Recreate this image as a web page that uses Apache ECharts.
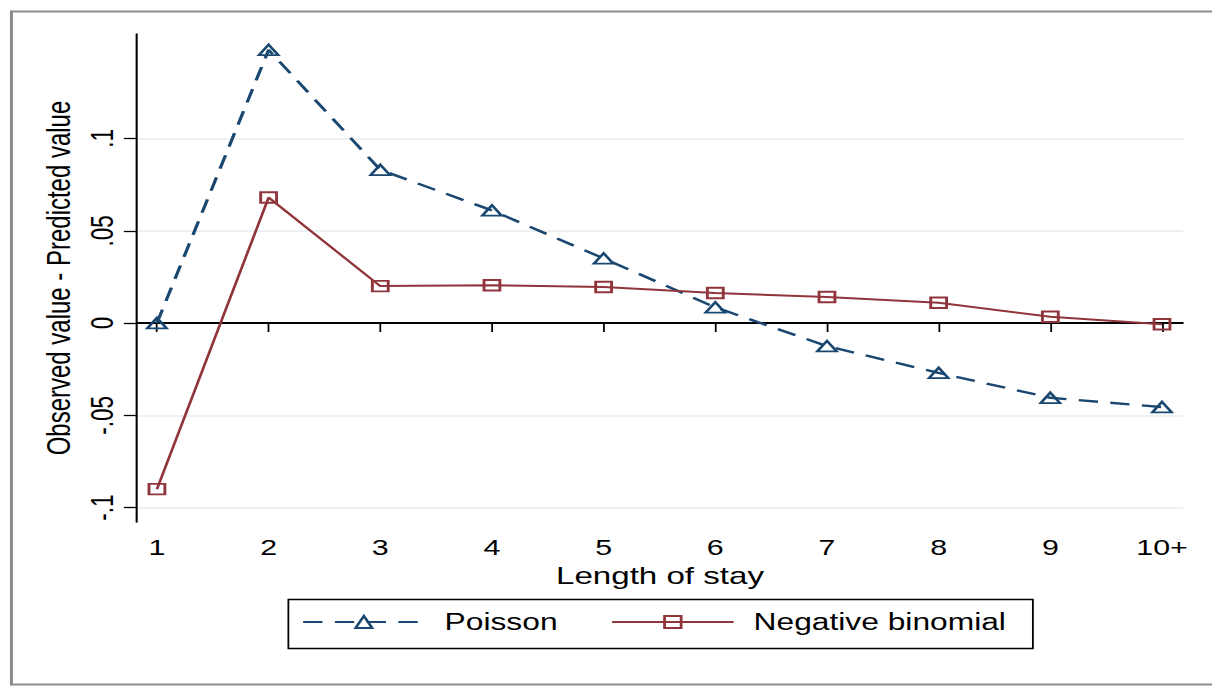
<!DOCTYPE html>
<html>
<head>
<meta charset="utf-8">
<script src="https://cdn.jsdelivr.net/npm/echarts@6/dist/echarts.min.js"></script>
<style>
html, body { margin: 0; padding: 0; background: #ffffff; overflow: hidden; }
#chart { width: 878px; height: 688px; transform: scaleX(1.3804); transform-origin: 0 0; }
</style>
</head>
<body>
<div id="chart"></div>
<script>
// ---- data ----
const categories = ['1', '2', '3', '4', '5', '6', '7', '8', '9', '10+'];
const poissonValues = [0.0, 0.148, 0.083, 0.061, 0.035, 0.0085, -0.0125, -0.027, -0.0405, -0.0455];
const negbinValues = [-0.090, 0.068, 0.020, 0.0205, 0.0195, 0.0163, 0.0141, 0.011, 0.0034, -0.0007];
const yTickValues = [-0.1, -0.05, 0, 0.05, 0.1];
const yTickLabels = ['-.1', '-.05', '0', '.05', '.1'];
const seriesNames = ['Poisson', 'Negative binomial'];
const xTitle = 'Length of stay';
const yTitle = 'Observed value - Predicted value';

const navy = '#1a476f';
const maroon = '#90353b';
const FONT = '"Liberation Sans", Arial, Helvetica, sans-serif';

const xPositions = categories.map((c, i) => i + 1);
const toPairs = vals => vals.map((v, i) => [xPositions[i], v]);

const chart = echarts.init(document.getElementById('chart'), null, { renderer: 'svg' });

chart.setOption({
  animation: false,
  backgroundColor: '#ffffff',
  textStyle: { fontFamily: FONT, color: '#000' },
  graphic: [{
    type: 'rect',
    left: 5.8, top: 9,
    shape: { x: 0, y: 0, width: 900, height: 673 },
    style: { fill: 'none', stroke: '#8c8c8c', lineWidth: 2.2 },
    silent: true
  }],
  grid: { left: 99.2, right: 21, top: 34, bottom: 166 },
  xAxis: {
    type: 'value',
    min: 0.821, max: 10.188,
    name: xTitle,
    nameLocation: 'middle',
    nameGap: 31,
    nameTextStyle: { fontSize: 24, fontFamily: FONT, color: '#000' },
    axisLine: { show: true, lineStyle: { color: '#000', width: 1.5 } },
    axisTick: { show: true, length: 9, lineStyle: { color: '#000', width: 1.3 }, customValues: xPositions },
    axisLabel: {
      show: true, fontSize: 22, color: '#000', fontFamily: FONT, margin: 15,
      customValues: xPositions,
      formatter: v => categories[Math.round(v) - 1]
    },
    splitLine: { show: false }
  },
  yAxis: {
    type: 'value',
    min: -0.1078, max: 0.1566,
    name: yTitle,
    nameLocation: 'middle',
    nameGap: 38,
    nameRotate: 90,
    nameTextStyle: { fontSize: 24, fontFamily: FONT, color: '#000' },
    axisLine: { show: true, lineStyle: { color: '#000', width: 1.5 } },
    axisTick: { show: true, length: 9.5, lineStyle: { color: '#000', width: 1.3 }, customValues: yTickValues },
    axisLabel: {
      show: true, rotate: 90, fontSize: 22.5, color: '#000', fontFamily: FONT, margin: 14,
      customValues: yTickValues,
      formatter: v => {
        const i = yTickValues.findIndex(t => Math.abs(t - v) < 1e-9);
        return i >= 0 ? yTickLabels[i] : '';
      }
    },
    splitLine: { show: true, lineStyle: { color: '#e6eef1', width: 1.6 } }
  },
  legend: {
    show: true,
    left: 208.9, top: 599.5,
    orient: 'horizontal',
    data: seriesNames,
    itemWidth: 88,
    itemHeight: 15,
    itemGap: 38.5,
    padding: [11, 19.5, 15, 9.7],
    borderColor: '#000',
    borderWidth: 1.3,
    borderRadius: 0,
    textStyle: { fontSize: 23, color: '#000', fontFamily: FONT, padding: [0, 0, 0, 9.5] }
  },
  series: [
    {
      name: seriesNames[0],
      type: 'line',
      data: toPairs(poissonValues),
      symbol: 'triangle',
      symbolSize: [14, 10.5],
      itemStyle: { color: 'rgba(255,255,255,0)', borderColor: navy, borderWidth: 2 },
      lineStyle: { color: navy, width: 2.4, type: [14, 9] },
      z: 3
    },
    {
      name: seriesNames[1],
      type: 'line',
      data: toPairs(negbinValues),
      symbol: 'rect',
      symbolSize: [11.5, 10.5],
      itemStyle: { color: 'rgba(255,255,255,0)', borderColor: maroon, borderWidth: 2 },
      lineStyle: { color: maroon, width: 2 },
      z: 3,
      markLine: {
        silent: true,
        symbol: ['none', 'none'],
        label: { show: false },
        lineStyle: { color: '#000', width: 2, type: 'solid' },
        data: [{ yAxis: 0 }],
        z: 2
      }
    }
  ]
});
</script>
</body>
</html>
